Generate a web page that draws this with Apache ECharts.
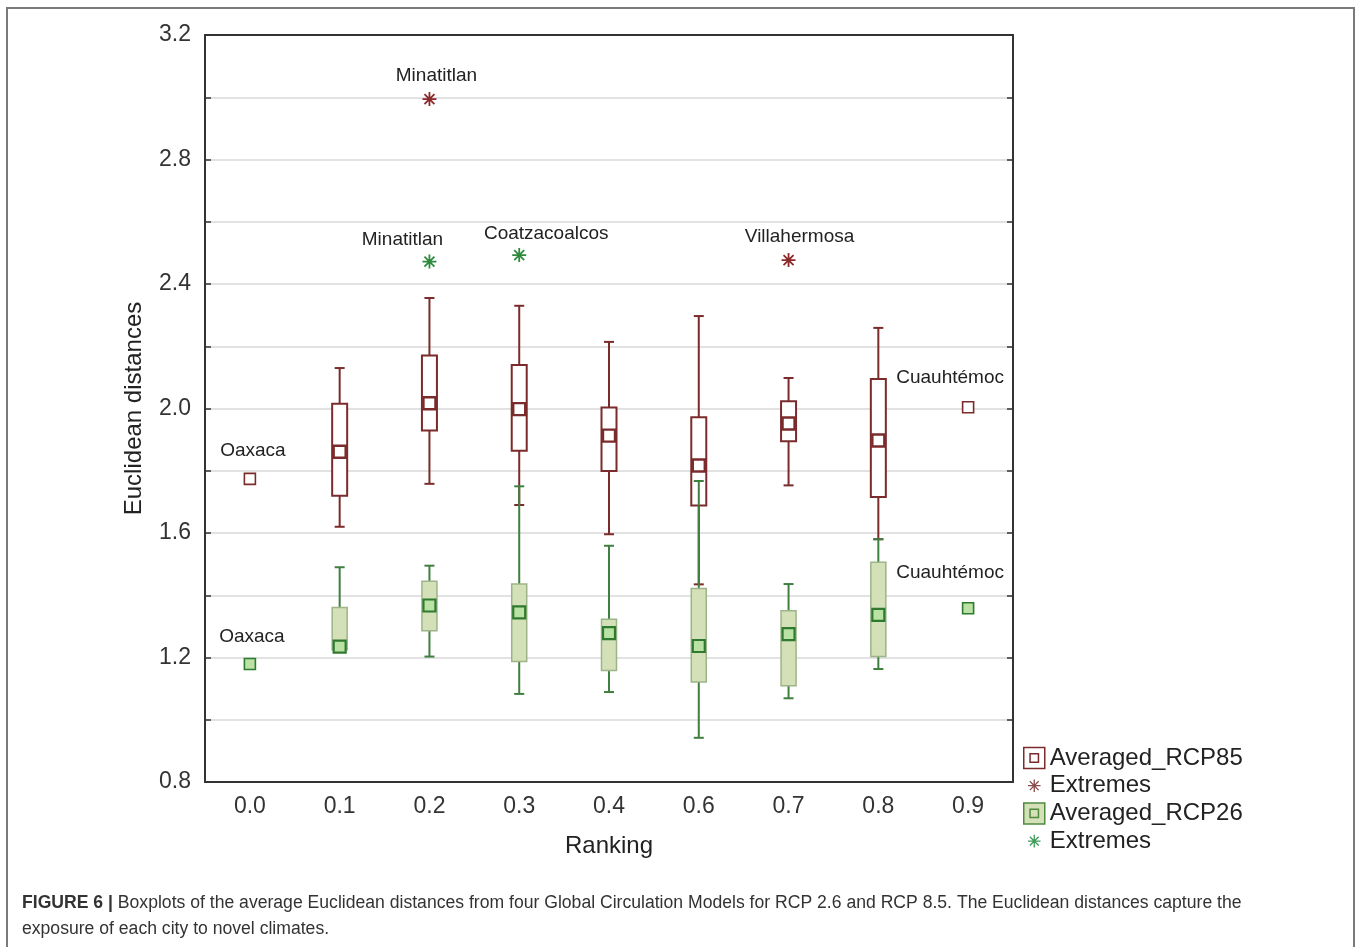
<!doctype html>
<html lang="en">
<head>
<meta charset="UTF-8">
<title>Figure 6 - Euclidean distances boxplots</title>
<script src="https://cdn.jsdelivr.net/npm/echarts@6/dist/echarts.min.js"></script>
<style>
    html, body {margin: 0; padding: 0; background: #fff;}
    #main {width: 1358px; height: 947px;}
</style>
</head>
<body>
<div id="main"></div>
<script>
// ranking categories on the x axis
var categories = ['0.0', '0.1', '0.2', '0.3', '0.4', '0.6', '0.7', '0.8', '0.9'];

// RCP 8.5 : whisker low, box low, box high, whisker high, mean square
var rcp85Low     = [null, 1.62, 1.758, 1.69, 1.596, 1.435, 1.753, 1.58, null];
var rcp85BoxLow  = [null, 1.72, 1.929, 1.864, 1.799, 1.688, 1.895, 1.716, null];
var rcp85BoxHigh = [null, 2.015, 2.17, 2.14, 2.003, 1.972, 2.023, 2.095, null];
var rcp85High    = [null, 2.13, 2.355, 2.33, 2.214, 2.297, 2.098, 2.259, null];
var rcp85Mean    = [1.774, 1.861, 2.017, 1.998, 1.913, 1.817, 1.952, 1.897, 2.004];

// RCP 2.6
var rcp26Low     = [null, 1.22, 1.203, 1.083, 1.089, 0.942, 1.069, 1.163, null];
var rcp26BoxLow  = [null, 1.225, 1.286, 1.187, 1.158, 1.121, 1.109, 1.203, null];
var rcp26BoxHigh = [null, 1.361, 1.445, 1.436, 1.323, 1.422, 1.350, 1.506, null];
var rcp26High    = [null, 1.49, 1.495, 1.75, 1.559, 1.767, 1.436, 1.58, null];
var rcp26Mean    = [1.179, 1.235, 1.367, 1.345, 1.278, 1.237, 1.275, 1.337, 1.358];

// single cities drawn as a lone square
var meanCities = ['Oaxaca', '', '', '', '', '', '', '', 'Cuauhtémoc'];

// extremes (category, value) and city names
var ext85Cat   = ['0.2', '0.7'];
var ext85Val   = [2.994, 2.477];
var ext85City  = ['Minatitlan', 'Villahermosa'];
var ext26Cat   = ['0.2', '0.3'];
var ext26Val   = [2.472, 2.493];
var ext26City  = ['Minatitlan', 'Coatzacoalcos'];

var FONT = '"Liberation Sans", Arial, sans-serif';
var RED = '#7b2b2b';
var GREEN = '#3f7f3f';

// label offsets (px) for the city names
var labelOff = {
    '85Minatitlan': [7, -23], '85Villahermosa': [11, -23],
    '26Minatitlan': [-27, -22], '26Coatzacoalcos': [27, -21],
    '85Oaxaca': [3, -28], '26Oaxaca': [2, -27],
    '85Cuauhtémoc': [-18, -29], '26Cuauhtémoc': [-18, -36]
};

function boxData(low, bl, bh, high) {
    var out = [];
    for (var i = 0; i < categories.length; i++) {
        if (low[i] == null) continue;
        out.push([i, low[i], bl[i], bh[i], high[i]]);
    }
    return out;
}

function boxRender(whisker, fill, border, borderW) {
    return function (params, api) {
        var c = api.value(0);
        var pHigh = api.coord([c, api.value(4)]);
        var pLow = api.coord([c, api.value(1)]);
        var pBh = api.coord([c, api.value(3)]);
        var pBl = api.coord([c, api.value(2)]);
        var x = pHigh[0];
        var ls = {stroke: whisker, lineWidth: 2};
        return {
            type: 'group',
            children: [
                {type: 'line', shape: {x1: x, y1: pHigh[1], x2: x, y2: pLow[1]}, style: ls},
                {type: 'line', shape: {x1: x - 5, y1: pHigh[1], x2: x + 5, y2: pHigh[1]}, style: ls},
                {type: 'line', shape: {x1: x - 5, y1: pLow[1], x2: x + 5, y2: pLow[1]}, style: ls},
                {type: 'rect', shape: {x: x - 7.5, y: pBh[1], width: 15, height: pBl[1] - pBh[1]},
                    style: {fill: fill, stroke: border, lineWidth: borderW}}
            ]
        };
    };
}

function meanData(arr, key) {
    return arr.map(function (v, i) {
        var city = meanCities[i];
        var d = {value: [i, v]};
        if (city) {
            d.label = {show: true, formatter: city, offset: labelOff[key + city]};
            d.symbolSize = 11;
            d.itemStyle = {borderWidth: 1.6};
        }
        return d;
    });
}

function extData(cats, vals, cities, key) {
    return vals.map(function (v, i) {
        return {
            value: [cats[i], v],
            label: {show: true, formatter: cities[i], offset: labelOff[key + cities[i]]}
        };
    });
}

var ASTER = 'path://M10,1V19M1,10H19M3.6,3.6L16.4,16.4M3.6,16.4L16.4,3.6';
var ASTER_LEG = 'path://M0,0M20,20M10,4V16M4,10H16M5.8,5.8L14.2,14.2M5.8,14.2L14.2,5.8';

var cityLabel = {
    position: 'inside', align: 'center', verticalAlign: 'middle',
    color: '#222', fontSize: 19, fontFamily: FONT
};

var chart = echarts.init(document.getElementById('main'));
chart.setOption({
    animation: false,
    backgroundColor: '#fff',
    textStyle: {fontFamily: FONT},
    grid: {left: 205, top: 35, right: 345, bottom: 165},
    legend: {
        orient: 'vertical', left: 1018, top: 741,
        itemWidth: 21, itemHeight: 21, itemGap: 3.7,
        selectedMode: false,
        textStyle: {fontSize: 24, color: '#222', fontFamily: FONT},
        formatter: function (n) { return n.indexOf('Extremes') === 0 ? 'Extremes' : n; },
        data: [
            {name: 'Averaged_RCP85', icon: 'path://M0,0H20V20H0ZM6,6H14V14H6Z',
                itemStyle: {color: '#fff', borderColor: RED, borderWidth: 1.5}},
            {name: 'Extremes85', icon: ASTER_LEG,
                itemStyle: {color: 'rgba(0,0,0,0)', borderColor: '#8a4a4a', borderWidth: 1.3}},
            {name: 'Averaged_RCP26', icon: 'path://M0,0H20V20H0ZM6,6H14V14H6Z',
                itemStyle: {color: '#d4e1b8', borderColor: '#4f8a3f', borderWidth: 1.5}},
            {name: 'Extremes26', icon: ASTER_LEG,
                itemStyle: {color: 'rgba(0,0,0,0)', borderColor: '#3f9a5a', borderWidth: 1.3}}
        ]
    },
    xAxis: [{
        type: 'category', data: categories, boundaryGap: true,
        name: 'Ranking', nameLocation: 'middle', nameGap: 52,
        nameTextStyle: {fontSize: 24, color: '#222'},
        axisLine: {lineStyle: {color: '#333', width: 2}},
        axisTick: {inside: true, alignWithLabel: true, length: 6, lineStyle: {color: '#333', width: 1.5}},
        axisLabel: {fontSize: 23, color: '#333', margin: 13}
    }, {
        type: 'category', data: categories, boundaryGap: true, position: 'top',
        axisLine: {lineStyle: {color: '#333', width: 2}},
        axisTick: {inside: true, alignWithLabel: true, length: 6, lineStyle: {color: '#333', width: 1.5}},
        axisLabel: {show: false}
    }],
    yAxis: [{
        type: 'value', min: 0.8, max: 3.2, interval: 0.2,
        name: 'Euclidean distances', nameLocation: 'middle', nameGap: 59,
        nameTextStyle: {fontSize: 24, color: '#222'},
        axisLine: {show: true, lineStyle: {color: '#333', width: 2}},
        axisTick: {show: true, inside: true, length: 6, lineStyle: {color: '#333', width: 1.5}},
        axisLabel: {
            fontSize: 23, color: '#333', margin: 14,
            formatter: function (v) { return Math.round(v * 10) % 4 === 0 ? v.toFixed(1) : ''; }
        },
        splitLine: {lineStyle: {color: '#d9d9d9', width: 1.5}}
    }, {
        type: 'value', min: 0.8, max: 3.2, interval: 0.2, position: 'right',
        axisLine: {show: true, lineStyle: {color: '#333', width: 2}},
        axisTick: {show: true, inside: true, length: 6, lineStyle: {color: '#333', width: 1.5}},
        axisLabel: {show: false},
        splitLine: {show: false}
    }],
    graphic: [
        {type: 'rect', shape: {x: 7, y: 8, width: 1347, height: 960},
            style: {fill: 'none', stroke: '#7a7a7a', lineWidth: 2}, silent: true},
        {type: 'text', left: 22, top: 890, silent: true,
            style: {
                text: '{b|FIGURE 6 |} Boxplots of the average Euclidean distances from four Global Circulation Models for RCP 2.6 and RCP 8.5. The Euclidean distances capture the\nexposure of each city to novel climates.',
                font: '17.6px ' + FONT, fill: '#333', lineHeight: 26,
                rich: {b: {fontWeight: 'bold', fontSize: 17.6, fill: '#333', fontFamily: FONT}}
            }}
    ],
    series: [{
        name: 'Averaged_RCP85', type: 'custom', z: 2,
        renderItem: boxRender(RED, '#fff', RED, 2),
        encode: {x: 0, y: [1, 2, 3, 4]},
        data: boxData(rcp85Low, rcp85BoxLow, rcp85BoxHigh, rcp85High)
    }, {
        name: 'Averaged_RCP85', type: 'scatter', z: 3,
        symbol: 'rect', symbolSize: 12,
        itemStyle: {color: '#fff', borderColor: RED, borderWidth: 2.4, opacity: 1},
        label: cityLabel,
        data: meanData(rcp85Mean, '85')
    }, {
        name: 'Averaged_RCP26', type: 'custom', z: 4,
        renderItem: boxRender(GREEN, '#d4e1b8', '#9cb487', 1.5),
        encode: {x: 0, y: [1, 2, 3, 4]},
        data: boxData(rcp26Low, rcp26BoxLow, rcp26BoxHigh, rcp26High)
    }, {
        name: 'Averaged_RCP26', type: 'scatter', z: 5,
        symbol: 'rect', symbolSize: 12,
        itemStyle: {color: '#b9e2a4', borderColor: '#2f7a2f', borderWidth: 2.2, opacity: 1},
        label: cityLabel,
        data: meanData(rcp26Mean, '26')
    }, {
        name: 'Extremes85', type: 'scatter', z: 6,
        symbol: ASTER, symbolSize: 14,
        itemStyle: {color: 'rgba(0,0,0,0)', borderColor: '#8a2a2a', borderWidth: 1.8, opacity: 1},
        label: cityLabel,
        data: extData(ext85Cat, ext85Val, ext85City, '85')
    }, {
        name: 'Extremes26', type: 'scatter', z: 6,
        symbol: ASTER, symbolSize: 14,
        itemStyle: {color: 'rgba(0,0,0,0)', borderColor: '#2e8b3e', borderWidth: 1.8, opacity: 1},
        label: cityLabel,
        data: extData(ext26Cat, ext26Val, ext26City, '26')
    }]
});
</script>
</body>
</html>
